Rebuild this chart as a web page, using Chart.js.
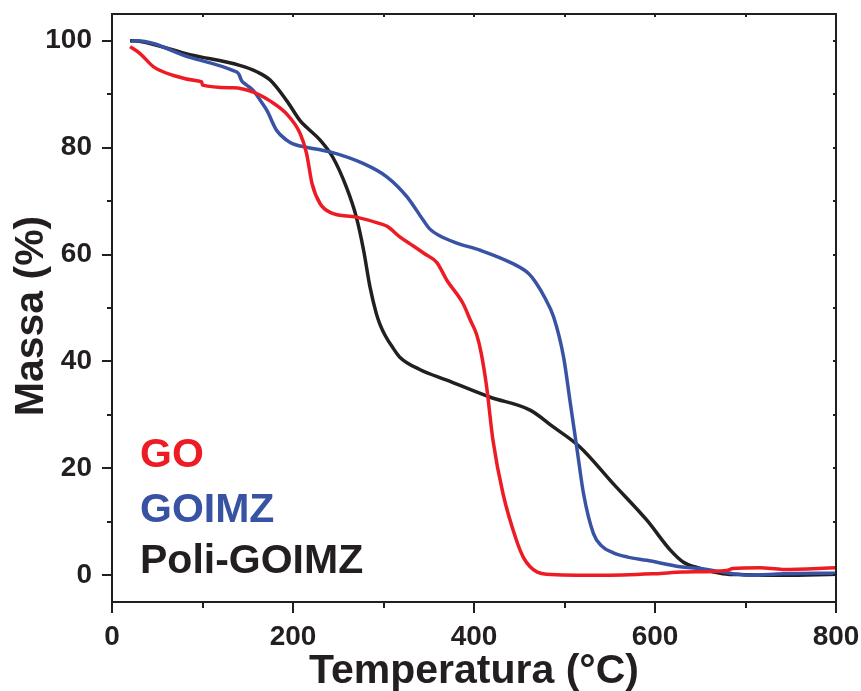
<!DOCTYPE html>
<html>
<head>
<meta charset="utf-8">
<script src="https://cdn.jsdelivr.net/npm/chart.js@4/dist/chart.umd.min.js"></script>
<style>
  html, body { margin: 0; padding: 0; background: #fff; }
  #wrap { width: 861px; height: 691px; }
</style>
</head>
<body>
<div id="wrap"><canvas id="tgaChart"></canvas></div>
<script>
// TGA curves (temperature in °C, mass in %)
const goTemp = [20, 31, 46, 68, 97, 99, 100, 134, 156, 175, 193, 208, 215, 221, 230, 241, 270, 296, 304, 318, 333, 345, 359, 370, 388, 396, 403, 408, 414, 421, 432, 447, 455, 462, 470, 480, 540, 600, 631, 679, 686, 716, 741, 800];
const goMass = [98.9, 97.6, 95.1, 93.5, 92.4, 92.3, 91.7, 91.2, 90.4, 88.7, 86.3, 82.6, 78.9, 73.3, 69.5, 67.9, 67.0, 65.8, 65.3, 63.3, 61.6, 60.2, 58.5, 55.2, 50.8, 47.7, 45.0, 41.5, 35.2, 25.2, 15.3, 6.5, 3.2, 1.6, 0.6, 0.2, 0.0, 0.3, 0.6, 0.9, 1.25, 1.4, 1.1, 1.4];

const goimzTemp = [21, 27, 86, 134, 140, 143, 148, 156, 164, 171, 182, 193, 200, 208, 241, 278, 304, 326, 344, 351, 362, 380, 407, 443, 460, 469, 478, 488, 499, 506, 514, 521, 532, 541, 554, 570, 591, 628, 650, 686, 705, 742, 800];
const goimzMass = [99.9, 100, 96.9, 94.4, 93.8, 92.6, 91.8, 90.7, 88.8, 87.0, 83.2, 81.4, 80.7, 80.3, 79.2, 77.0, 74.5, 70.8, 66.4, 64.8, 63.5, 62.2, 60.8, 58.3, 56.5, 54.6, 52.0, 48.3, 40.8, 32.7, 23.4, 15.3, 7.8, 5.5, 4.2, 3.4, 2.8, 1.6, 1.25, 0.3, 0.0, 0.3, 0.4];

const poliTemp = [20, 30, 86, 141, 160, 175, 193, 208, 215, 230, 244, 259, 270, 278, 285, 292, 296, 302, 311, 318, 340, 370, 418, 462, 488, 517, 554, 591, 617, 631, 650, 675, 700, 741, 800];
const poliMass = [100, 99.9, 97.4, 95.4, 94.2, 92.6, 88.8, 85.0, 83.8, 81.4, 78.2, 72.6, 67.0, 60.8, 54.0, 49.0, 47.0, 44.8, 42.4, 40.8, 38.5, 36.5, 33.3, 30.9, 27.7, 24.0, 17.1, 10.3, 4.7, 2.5, 1.3, 0.3, 0.1, 0.0, 0.2];

const seriesNames = ['GO', 'GOIMZ', 'Poli-GOIMZ'];
const seriesColors = ['#ED1C24', '#3953A4', '#231F20'];
const xTickValues = [0, 200, 400, 600, 800];
const yTickValues = [0, 20, 40, 60, 80, 100];

const FONT = '"Liberation Sans", Arial, Helvetica, sans-serif';
const INK = '#231F20';

function toPoints(xs, ys) {
    return xs.map((x, i) => ({ x: x, y: ys[i] }));
}

// frame, minor/major ticks, axis titles and the coloured text legend
const decorPlugin = {
    id: 'decor',
    afterDatasetsDraw(chart) {
        const { ctx, chartArea: a, scales: { x, y } } = chart;
        ctx.save();
        ctx.strokeStyle = INK;
        ctx.lineWidth = 2;
        ctx.strokeRect(a.left, a.top, a.right - a.left, a.bottom - a.top);

        ctx.beginPath();
        for (let v = 0; v <= 800; v += 100) {
            const px = Math.round(x.getPixelForValue(v));
            const len = v % 200 === 0 ? 11 : 6;
            ctx.moveTo(px, a.bottom);
            ctx.lineTo(px, a.bottom + len);
            ctx.moveTo(px, a.top);
            ctx.lineTo(px, a.top + 3);
        }
        for (let v = 0; v <= 100; v += 10) {
            const py = Math.round(y.getPixelForValue(v));
            const len = v % 20 === 0 ? 10 : 5;
            ctx.moveTo(a.left - len, py);
            ctx.lineTo(a.left, py);
            ctx.moveTo(a.right - 3, py);
            ctx.lineTo(a.right, py);
        }
        ctx.stroke();

        // axis titles
        ctx.fillStyle = INK;
        ctx.font = 'bold 41px ' + FONT;
        ctx.textAlign = 'center';
        ctx.textBaseline = 'alphabetic';
        ctx.fillText('Temperatura (°C)', (a.left + a.right) / 2, 683);
        ctx.save();
        ctx.translate(43, 316);
        ctx.rotate(-Math.PI / 2);
        ctx.fillText('Massa (%)', 0, 0);
        ctx.restore();

        // legend as coloured labels
        ctx.textAlign = 'left';
        const baselines = [467, 522, 573];
        seriesNames.forEach((name, i) => {
            ctx.fillStyle = seriesColors[i];
            ctx.fillText(name, 140, baselines[i]);
        });
        ctx.restore();
    }
};

const ctx = document.getElementById('tgaChart').getContext('2d');
window.tgaChart = new Chart(ctx, {
    type: 'line',
    data: {
        datasets: [
            { label: seriesNames[0], data: toPoints(goTemp, goMass), borderColor: seriesColors[0] },
            { label: seriesNames[1], data: toPoints(goimzTemp, goimzMass), borderColor: seriesColors[1] },
            { label: seriesNames[2], data: toPoints(poliTemp, poliMass), borderColor: seriesColors[2] }
        ]
    },
    options: {
        responsive: true,
        maintainAspectRatio: false,
        animation: false,
        layout: { padding: { top: 14, right: 25, left: 0, bottom: 0 } },
        elements: {
            line: { borderWidth: 3.5, cubicInterpolationMode: 'monotone', fill: false },
            point: { radius: 0 }
        },
        plugins: {
            legend: { display: false },
            tooltip: { enabled: false }
        },
        scales: {
            x: {
                type: 'linear',
                min: 0,
                max: 800,
                grid: { display: true, drawOnChartArea: false, drawTicks: false },
                border: { display: false },
                ticks: {
                    color: INK,
                    font: { family: FONT, size: 28, weight: 'bold' },
                    padding: 18,
                    maxRotation: 0
                },
                afterBuildTicks: (scale) => { scale.ticks = xTickValues.map(v => ({ value: v })); },
                afterFit: (scale) => {
                    scale.height = 89;
                    scale.paddingLeft = 0;
                    scale.paddingRight = 0;
                }
            },
            y: {
                type: 'linear',
                min: -5,
                max: 105,
                grid: { display: true, drawOnChartArea: false, drawTicks: false },
                border: { display: false },
                ticks: {
                    color: INK,
                    font: { family: FONT, size: 28, weight: 'bold' },
                    padding: 20
                },
                afterBuildTicks: (scale) => { scale.ticks = yTickValues.map(v => ({ value: v })); },
                afterFit: (scale) => {
                    scale.width = 112;
                    scale.paddingTop = 0;
                    scale.paddingBottom = 0;
                }
            }
        }
    },
    plugins: [decorPlugin]
});
</script>
</body>
</html>
